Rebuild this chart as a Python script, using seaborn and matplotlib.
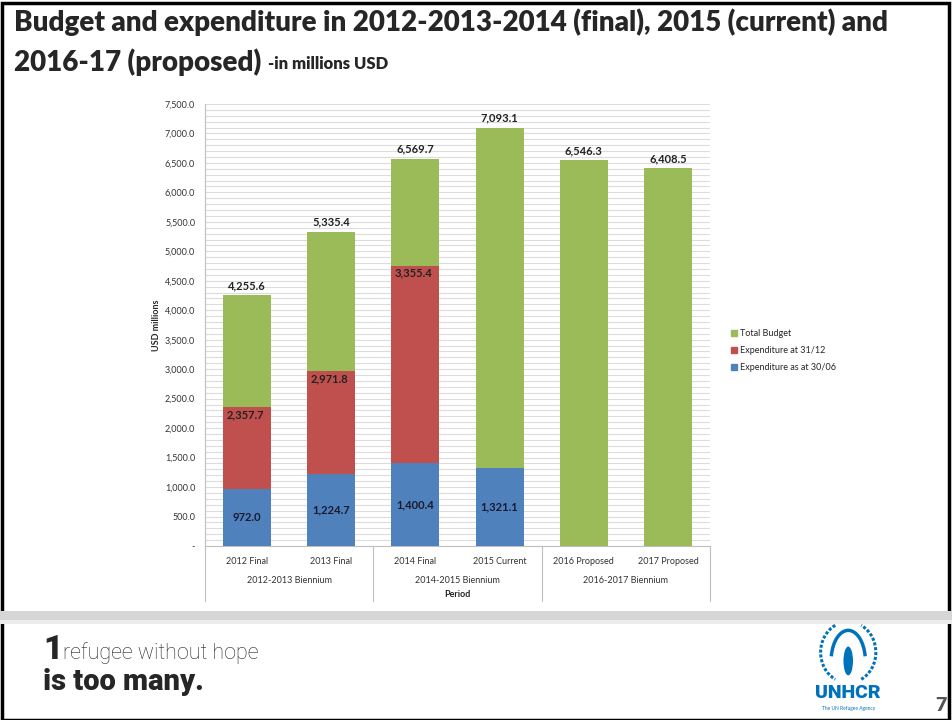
import numpy as np
import pandas as pd
import matplotlib.pyplot as plt
import matplotlib.transforms as mtransforms
from matplotlib.lines import Line2D
from matplotlib.patches import Rectangle, Arc, Ellipse
import seaborn as sns

# Chart data (millions USD)
periods = ['2012 Final', '2013 Final', '2014 Final', '2015 Current', '2016 Proposed', '2017 Proposed']
groups = ['2012-2013 Biennium', '2014-2015 Biennium', '2016-2017 Biennium']
total_budget = [4255.6, 5335.4, 6569.7, 7093.1, 6546.3, 6408.5]
# red bar tops as drawn in the picture, and their data labels
exp_3112_height = [2357.7, 2971.8, 4755.8, np.nan, np.nan, np.nan]
exp_3112_label = [2357.7, 2971.8, 3355.4, np.nan, np.nan, np.nan]
exp_3006 = [972.0, 1224.7, 1400.4, 1321.1, np.nan, np.nan]

green = '#9BBB59'
red = '#C0504D'
blue = '#4F81BD'
unhcr_blue = '#0072BC'

df = pd.DataFrame({'Period': periods, 'total': total_budget,
                   'exp31': exp_3112_height, 'exp30': exp_3006})

sns.set_style('white')
plt.rcParams['font.family'] = ['Lato', 'DejaVu Sans']

fig = plt.figure(figsize=(9.52, 7.2), dpi=100)
ax = fig.add_axes([0.2153, 0.2417, 0.5305, 0.6139])

# Overlapping bars: total, then expenditures on top
sns.barplot(data=df, x='Period', y='total', color=green, width=0.57, saturation=1, linewidth=0, ax=ax, zorder=3)
sns.barplot(data=df, x='Period', y='exp31', color=red, width=0.57, saturation=1, linewidth=0, ax=ax, zorder=4)
sns.barplot(data=df, x='Period', y='exp30', color=blue, width=0.57, saturation=1, linewidth=0, ax=ax, zorder=5)

ax.set_ylim(0, 7500)
ax.set_xlim(-0.5, 5.5)
ax.set_yticks(np.arange(0, 7501, 500))
ax.set_yticks(np.arange(0, 7501, 100), minor=True)
ax.set_yticklabels(['-'] + [f'{v:,.1f}' for v in np.arange(500, 7501, 500)], fontsize=6.5, color='#333333')
ax.grid(axis='y', which='both', color='#dcdcdc', linewidth=0.8, zorder=0)
ax.set_axisbelow(True)
ax.tick_params(axis='y', which='major', length=3, color='#bfbfbf', pad=4)
ax.tick_params(axis='y', which='minor', length=0)
ax.tick_params(axis='x', length=0, pad=8, labelsize=6.5, labelcolor='#333333')
for s in ['top', 'right']:
    ax.spines[s].set_visible(False)
for s in ['left', 'bottom']:
    ax.spines[s].set_color('#bfbfbf')
    ax.spines[s].set_linewidth(0.8)
ax.set_xlabel('')
ax.set_ylabel('USD millions', fontsize=6.5, fontweight='bold', labelpad=3)

# Data labels
for i, v in enumerate(total_budget):
    ax.text(i, v + 70, f'{v:,.1f}', ha='center', va='bottom', fontsize=8, fontweight='bold', color='#222222', zorder=6)
for i, (h, v) in enumerate(zip(exp_3112_height, exp_3112_label)):
    if not np.isnan(v):
        ax.text(i - 0.02, h - 35, f'{v:,.1f}', ha='center', va='top', fontsize=8, fontweight='bold', color='#222222', zorder=6)
for i, v in enumerate(exp_3006):
    if not np.isnan(v):
        ax.text(i, v / 2, f'{v:,.1f}', ha='center', va='center', fontsize=8, fontweight='bold', color='#1a1a2e', zorder=6)

# Group labels and separators under the axis
trans = mtransforms.blended_transform_factory(ax.transData, ax.transAxes)
for x in [-0.5, 1.5, 3.5, 5.5]:
    ax.plot([x, x], [0, -0.125], transform=trans, color='#bfbfbf', linewidth=0.8, clip_on=False)
for j, g in enumerate(groups):
    ax.text(2 * j + 0.5, -0.078, g, transform=trans, ha='center', va='center', fontsize=6.5, color='#333333')
ax.text(2.5, -0.11, 'Period', transform=trans, ha='center', va='center', fontsize=6.5, fontweight='bold', color='#222222')

# Legend
handles = [Line2D([], [], marker='s', linestyle='', markersize=4, color=c) for c in [green, red, blue]]
fig.legend(handles, ['Total Budget', 'Expenditure at 31/12', 'Expenditure as at 30/06'],
           loc='upper left', bbox_to_anchor=(0.758, 0.554), frameon=False, fontsize=6.5,
           handletextpad=0.1, labelspacing=0.9, handlelength=1.0)

# Slide title
fig.text(0.015, 0.969, 'Budget and expenditure in 2012-2013-2014 (final), 2015 (current) and',
         fontsize=20, fontweight='heavy', va='center', ha='left')
t2 = fig.text(0.015, 0.914, '2016-17 (proposed)', fontsize=20, fontweight='heavy', va='center', ha='left')
fig.canvas.draw()
bb = t2.get_window_extent().transformed(fig.transFigure.inverted())
fig.text(bb.x1 + 0.007, 0.911, '-in millions USD', fontsize=12, fontweight='heavy', va='center', ha='left')

# Slide frame and footer band
fig.patches.append(Rectangle((0.002, 0.0), 0.995, 0.996, transform=fig.transFigure,
                             fill=False, edgecolor='black', linewidth=2.5))
fig.patches.append(Rectangle((0.0, 0.138), 1.0, 0.013, transform=fig.transFigure,
                             facecolor='#d6d6d6', edgecolor='none'))
fig.patches.append(Rectangle((0.0, 0.133), 1.0, 0.006, transform=fig.transFigure,
                             facecolor='#ececec', edgecolor='none'))

# Footer text
fig.text(0.045, 0.085, '1', fontsize=24, fontweight='black', family=['Roboto', 'DejaVu Sans'], va='baseline')
fig.text(0.066, 0.085, 'refugee without hope', fontsize=15.5, fontweight='light',
         family=['Roboto', 'DejaVu Sans'], va='baseline')
fig.text(0.045, 0.041, 'is too many.', fontsize=21, fontweight='black',
         family=['Roboto', 'DejaVu Sans'], va='baseline')

# UNHCR mark (rough emblem: laurel arcs, hands and figure)
fig.patches.append(Arc((0.891, 0.094), 0.058, 0.085, theta1=110, theta2=250, transform=fig.transFigure,
                       color=unhcr_blue, linewidth=2.2, linestyle=(0, (1, 0.6))))
fig.patches.append(Arc((0.891, 0.094), 0.058, 0.085, theta1=-70, theta2=70, transform=fig.transFigure,
                       color=unhcr_blue, linewidth=2.2, linestyle=(0, (1, 0.6))))
fig.patches.append(Arc((0.891, 0.082), 0.036, 0.085, theta1=20, theta2=160, transform=fig.transFigure,
                       color=unhcr_blue, linewidth=2.5))
fig.patches.append(Ellipse((0.891, 0.082), 0.010, 0.040, transform=fig.transFigure,
                           facecolor=unhcr_blue, edgecolor='none'))
fig.text(0.891, 0.030, 'UNHCR', fontsize=14, fontweight='black', color=unhcr_blue,
         family=['Roboto', 'DejaVu Sans'], ha='center', va='baseline')
fig.text(0.891, 0.014, 'The UN Refugee Agency', fontsize=3.5, color=unhcr_blue, ha='center', va='baseline')
fig.text(0.988, 0.012, '7', fontsize=14, fontweight='heavy', color='#555555', ha='center', va='baseline')

fig.savefig('out.png', dpi=100)
